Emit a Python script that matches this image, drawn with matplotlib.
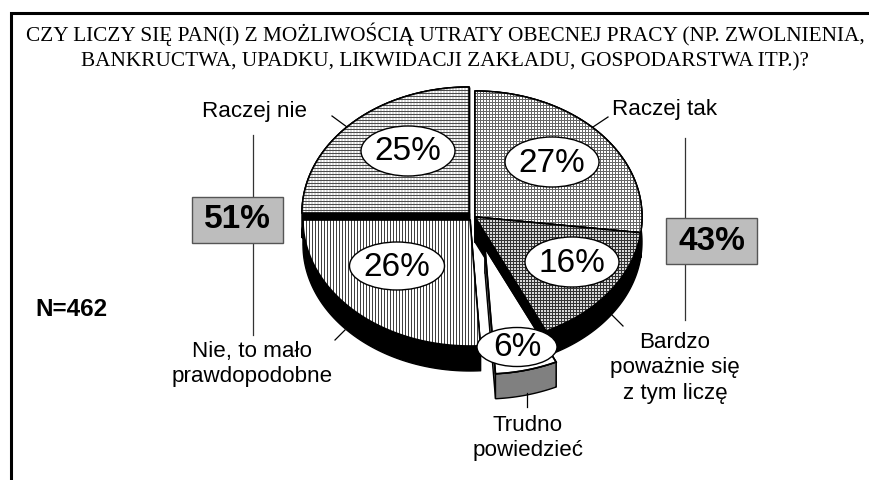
import numpy as np
import matplotlib
matplotlib.use('Agg')
import matplotlib.pyplot as plt
from matplotlib.patches import Polygon, Ellipse, Rectangle

title_lines = ['CZY LICZY SIĘ PAN(I) Z MOŻLIWOŚCIĄ UTRATY OBECNEJ PRACY (NP. ZWOLNIENIA,',
               'BANKRUCTWA, UPADKU, LIKWIDACJI ZAKŁADU, GOSPODARSTWA ITP.)?']
# clockwise from the top
slice_names = ['Raczej tak', 'Bardzo\npoważnie się\nz tym liczę', 'Trudno\npowiedzieć',
               'Nie, to mało\nprawdopodobne', 'Raczej nie']
slice_values = [27, 16, 6, 26, 25]
sum_labels = ['43%', '51%']
sample_label = 'N=462'

W, H = 869, 480
fig = plt.figure(figsize=(W / 100, H / 100), dpi=100)
ax = fig.add_axes([0, 0, 1, 1])
ax.set_xlim(0, W)
ax.set_ylim(H, 0)
ax.axis('off')

# pie geometry, pixels
RX, RY, DEPTH = 167, 126, 25
centers = [(475, 217), (475, 217), (485, 248), (470, 220), (469, 213)]
bubbles = [(552, 162, 94, 50), (572, 262, 94, 50), (517, 347, 80, 39),
           (397, 266, 95, 48), (408, 151, 94, 50)]
wall_colors = ['black', 'black', '#808080', 'black', 'black']
draw_order = [4, 0, 3, 1, 2]


def tile(rows):
    a = np.array(rows, dtype=float)
    return np.tile(a, (H // a.shape[0] + 1, W // a.shape[1] + 1))[:H, :W]


patterns = [
    tile([[.4, .4, .4], [.4, 1, 1], [.4, 1, 1]]),
    tile([[.2, .2, .2], [.2, .85, .85], [.2, .85, .85]]),
    None,
    tile([[.25, 1, 1], [.25, 1, 1], [.25, 1, 1]]),
    tile([[.3, .3, .3], [.85, 1, .85], [.85, 1, .85]]),
]

edges = np.cumsum([0] + slice_values) / sum(slice_values)
angles = np.radians(90 - 360 * edges)


def arc(i):
    t = np.linspace(angles[i], angles[i + 1], 80)
    cx, cy = centers[i]
    return np.column_stack([cx + RX * np.cos(t), cy - RY * np.sin(t)])


for i in draw_order:
    cx, cy = centers[i]
    z = 2 + draw_order.index(i)
    a = arc(i)
    down = np.array([0, DEPTH])
    # side walls: both cuts and the rim
    for q in ([(cx, cy), a[0], a[0] + down, (cx, cy + DEPTH)],
              [(cx, cy), a[-1], a[-1] + down, (cx, cy + DEPTH)]):
        ax.add_patch(Polygon(q, fc=wall_colors[i], ec='black', lw=1, zorder=z))
    ax.add_patch(Polygon(np.vstack([a, (a + down)[::-1]]), fc=wall_colors[i], ec='black',
                         lw=1, zorder=z))
    top = Polygon(np.vstack([[(cx, cy)], a]), fc='white', ec='black', lw=1, zorder=z)
    ax.add_patch(top)
    if patterns[i] is not None:
        im = ax.imshow(patterns[i], cmap='gray', vmin=0, vmax=1, extent=(0, W, H, 0),
                       interpolation='nearest', aspect='auto', zorder=z)
        im.set_clip_path(top)
    ax.add_patch(Polygon(np.vstack([[(cx, cy)], a]), fc='none', ec='black', lw=1.2, zorder=z))

for v, (x, y, w, h) in zip(slice_values, bubbles):
    ax.add_patch(Ellipse((x, y), w, h, fc='white', ec='black', lw=1, zorder=10))
    ax.text(x, y + 1, f'{v}%', ha='center', va='center', fontsize=24,
            family='Liberation Sans', zorder=11)

# frame, only top and left
ax.plot([11, 11, W], [H, 13, 13], color='black', lw=2.2, solid_joinstyle='miter', zorder=1)

for line, y in zip(title_lines, [41.5, 66.5]):
    ax.text(445, y, line, ha='center', va='baseline', fontsize=15.3, family='Liberation Serif')

label_pos = [(665, 109), (675, 368), (528, 438), (252, 364), (254, 112)]
for name, (x, y) in zip(slice_names, label_pos):
    ax.text(x, y, name, ha='center', va='center', fontsize=16.1, family='Liberation Sans',
            linespacing=1.26)

# leaders
for xs, ys in [([332, 347], [116, 127]), ([345, 335], [330, 340]), ([612, 623], [315, 326]),
               ([527, 527], [393, 407]), ([593, 608], [127, 117])]:
    ax.plot(xs, ys, color='black', lw=0.9, zorder=9)

# sum boxes with their vertical lines
for label, x0, y0, xl, yl in zip(sum_labels, [666, 192], [218, 197], [685, 253], [(138, 320), (135, 335)]):
    ax.plot([xl, xl], yl, color='#333333', lw=0.9, zorder=1)
    ax.add_patch(Rectangle((x0, y0), 91, 45.5, fc='#bdbdbd', ec='#555555', lw=1, zorder=3))
    ax.text(x0 + 45.5, y0 + 23, label, ha='center', va='center', fontsize=24,
            fontweight='bold', family='Liberation Sans', zorder=4)

ax.text(71, 310, sample_label, ha='center', va='center', fontsize=17.5, fontweight='bold',
        family='Liberation Sans')

fig.savefig('out.png', dpi=100)
